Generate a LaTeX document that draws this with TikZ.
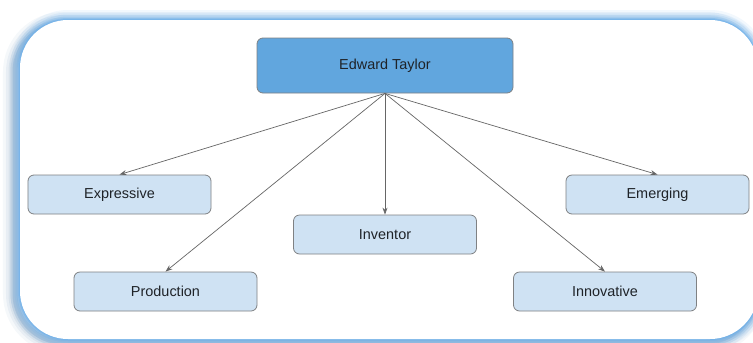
\documentclass[tikz,border=0pt]{standalone}
\usepackage{fontspec}
\setmainfont{Liberation Sans}
\usetikzlibrary{arrows.meta}
\definecolor{rootfill}{HTML}{61A6DE}
\definecolor{leaffill}{HTML}{CFE2F3}
\definecolor{boxline}{HTML}{7F8183}
\definecolor{linkcol}{HTML}{666666}
\definecolor{textcol}{HTML}{1F2328}
\definecolor{glowcol}{HTML}{6AAEEA}
\definecolor{shadecol}{HTML}{3E6F9E}
\begin{document}
\begin{tikzpicture}[x=1bp,y=-1bp,
  leaf/.style={draw=boxline, fill=leaffill, rounded corners=6bp,
    minimum width=183bp, minimum height=39bp, line width=0.8bp, inner sep=0pt,
    font=\fontsize{14.5}{16}\selectfont, text=textcol},
  root/.style={leaf, fill=rootfill, minimum width=256bp, minimum height=55bp},
  link/.style={draw=linkcol, line width=0.7bp, -{Stealth[length=7bp,width=5bp]}}]
\useasboundingbox (0,0) rectangle (753,342);
\begin{scope}
\clip (0,0) rectangle (753,342);
% soft grey-blue shadow, offset towards lower left
\foreach \w/\o in {24/0.05,18/0.07,13/0.09,9/0.12,5/0.16}
  \draw[shadecol, line width=\w bp, opacity=\o, rounded corners=48bp]
    (15,24) rectangle (754,342);
% blue glow round the panel
\foreach \w/\o in {20/0.09,15/0.13,11/0.18,7/0.25,4/0.35,2/0.5}
  \draw[glowcol, line width=\w bp, opacity=\o, rounded corners=48bp]
    (20,20) rectangle (758,339);
% white panel
\fill[white, rounded corners=48bp] (20,20) rectangle (758,339);
\end{scope}

\node[root] (taylor) at (385,65.5) {Edward Taylor};
\node[leaf] (expr) at (119.5,194.5) {Expressive};
\node[leaf] (prod) at (165.5,291.5) {Production};
\node[leaf] (inv)  at (385,234.5) {Inventor};
\node[leaf] (emer) at (657.5,194.5) {Emerging};
\node[leaf] (innov) at (605,291.5) {Innovative};

\foreach \t in {expr,prod,inv,emer,innov}
  \draw[link] (taylor.south) -- (\t.north);
\end{tikzpicture}
\end{document}
